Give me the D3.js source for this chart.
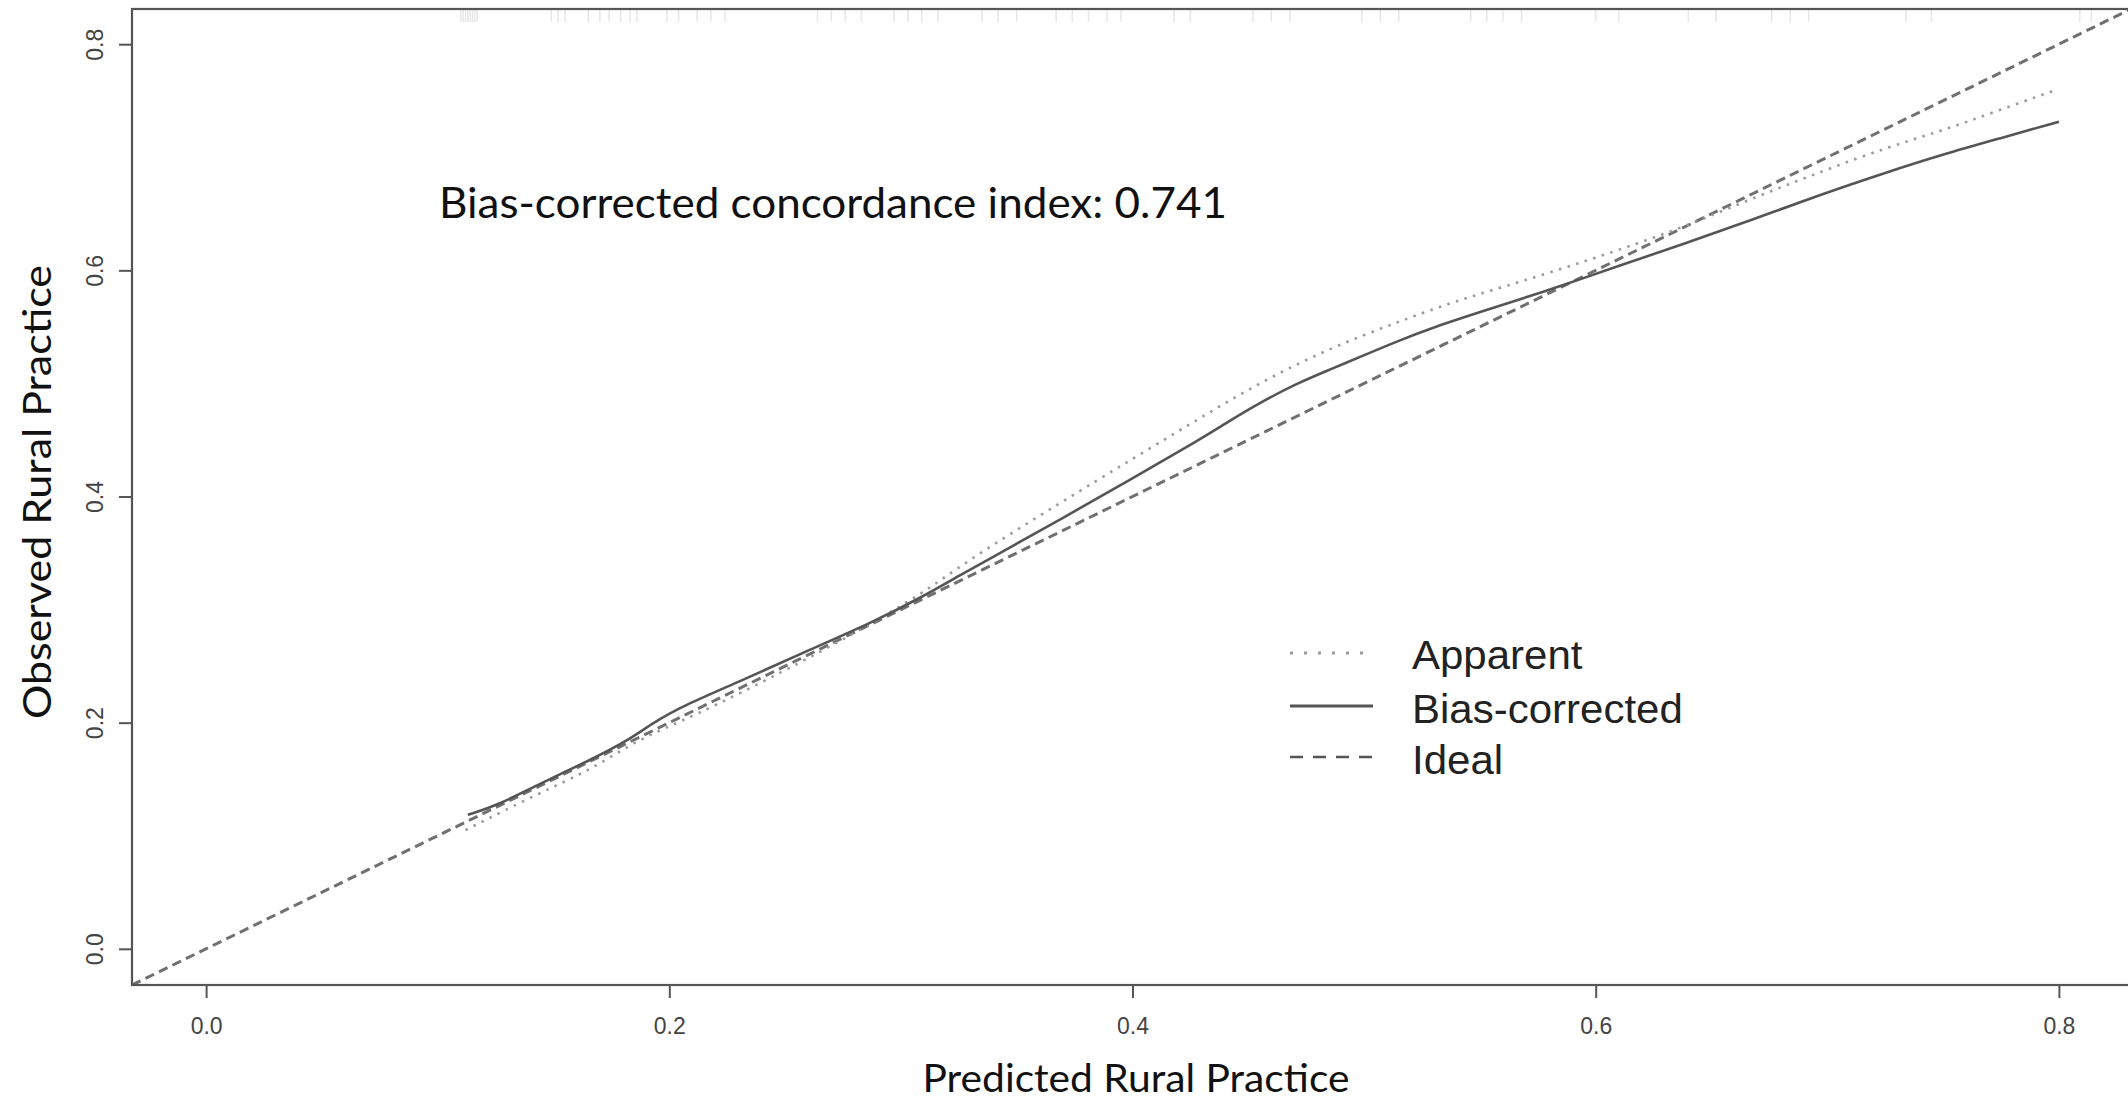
<!DOCTYPE html>
<html>
<head>
<meta charset="utf-8">
<script src="https://cdn.jsdelivr.net/npm/d3@7"></script>
<style>
  html, body { margin: 0; padding: 0; background: #fff; }
  svg { display: block; }
</style>
</head>
<body>
<svg id="chart" width="2128" height="1099"></svg>
<script>
// ---- data ----
const xTicks = [0.0, 0.2, 0.4, 0.6, 0.8];
const yTicks = [0.0, 0.2, 0.4, 0.6, 0.8];

const apparentX = [0.112, 0.144, 0.166, 0.187, 0.21, 0.25, 0.28, 0.31, 0.327, 0.37, 0.399, 0.428, 0.456, 0.485, 0.514, 0.537, 0.553, 0.582, 0.61, 0.639, 0.668, 0.697, 0.726, 0.749, 0.772, 0.798];
const apparentY = [0.105, 0.138, 0.158, 0.186, 0.205, 0.246, 0.279, 0.315, 0.341, 0.396, 0.432, 0.468, 0.502, 0.531, 0.554, 0.571, 0.581, 0.599, 0.618, 0.639, 0.664, 0.687, 0.709, 0.723, 0.740, 0.759];

const biasX = [0.113, 0.126, 0.144, 0.166, 0.182, 0.193, 0.206, 0.231, 0.259, 0.288, 0.31, 0.326, 0.341, 0.37, 0.399, 0.428, 0.442, 0.456, 0.471, 0.485, 0.5, 0.514, 0.529, 0.553, 0.582, 0.61, 0.639, 0.668, 0.697, 0.726, 0.749, 0.775, 0.8];
const biasY = [0.1185, 0.127, 0.146, 0.167, 0.184, 0.200, 0.215, 0.237, 0.263, 0.289, 0.312, 0.331, 0.348, 0.381, 0.415, 0.449, 0.467, 0.484, 0.500, 0.512, 0.525, 0.537, 0.549, 0.565, 0.584, 0.604, 0.624, 0.645, 0.667, 0.687, 0.702, 0.717, 0.7315];

const idealX = [-0.032, 0.832];
const idealY = [-0.032, 0.832];

const rugX = [0.110, 0.111, 0.112, 0.113, 0.114, 0.115, 0.116, 0.117,
  0.149, 0.152, 0.155, 0.165, 0.170, 0.174, 0.179, 0.183, 0.186,
  0.199, 0.204, 0.212, 0.218, 0.224, 0.264, 0.270, 0.276, 0.283,
  0.297, 0.303, 0.309, 0.316, 0.335, 0.342, 0.350, 0.367, 0.374, 0.381, 0.389, 0.395,
  0.418, 0.425, 0.452, 0.460, 0.468, 0.499, 0.507, 0.515,
  0.546, 0.553, 0.560, 0.568, 0.600, 0.610, 0.640, 0.652,
  0.676, 0.684, 0.692, 0.734, 0.745, 0.809, 0.814];

const legendLabels = ["Apparent", "Bias-corrected", "Ideal"];
const annotation = "Bias-corrected concordance index: 0.741";
const xTitle = "Predicted Rural Practice";
const yTitle = "Observed Rural Practice";

// ---- drawing ----
const svg = d3.select("#chart");
svg.append("rect").attr("width", 2128).attr("height", 1099).attr("fill", "#fff");

const x = d3.scaleLinear().domain([-0.032, 0.832]).range([132, 2133]);
const y = d3.scaleLinear().domain([-0.032, 0.832]).range([985, 8]);

const zip = (xs, ys) => xs.map((v, i) => [v, ys[i]]);
const straight = d3.line().x(d => x(d[0])).y(d => y(d[1]));
const smooth = d3.line().x(d => x(d[0])).y(d => y(d[1])).curve(d3.curveBasis);

svg.append("clipPath").attr("id", "plotclip")
  .append("rect").attr("x", 132).attr("y", 8).attr("width", 2001).attr("height", 977);

const plot = svg.append("g").attr("clip-path", "url(#plotclip)");

// rug at top
plot.append("g").selectAll("line").data(rugX).join("line")
  .attr("x1", d => x(d)).attr("x2", d => x(d))
  .attr("y1", y(0.832)).attr("y2", y(0.832) + 14)
  .attr("stroke", "#bbb").attr("stroke-width", 1.5).attr("stroke-opacity", 0.35);

// ideal
plot.append("path").datum(zip(idealX, idealY)).attr("d", straight)
  .attr("fill", "none").attr("stroke", "#707070").attr("stroke-width", 3)
  .attr("stroke-dasharray", "9.5,5.5");

// apparent
plot.append("path").datum(zip(apparentX, apparentY)).attr("d", smooth)
  .attr("fill", "none").attr("stroke", "#9a9a9a").attr("stroke-width", 2.6)
  .attr("stroke-dasharray", "2.5,6.5");

// bias-corrected
plot.append("path").datum(zip(biasX, biasY)).attr("d", smooth)
  .attr("fill", "none").attr("stroke", "#555").attr("stroke-width", 2.6);

// frame
svg.append("rect").attr("x", 132).attr("y", 9).attr("width", 2001).attr("height", 976)
  .attr("fill", "none").attr("stroke", "#555").attr("stroke-width", 2.2);

// x axis
const xAxis = d3.axisBottom(x).tickValues(xTicks).tickFormat(d3.format(".1f"))
  .tickSize(13).tickSizeOuter(0).tickPadding(20);
const gx = svg.append("g").attr("transform", "translate(0,985)").call(xAxis);
gx.select(".domain").remove();
gx.selectAll(".tick line").attr("stroke", "#555").attr("stroke-width", 2);
gx.selectAll(".tick text").attr("fill", "#444")
  .style("font-family", "'Liberation Sans', Arial, sans-serif").style("font-size", "23px");

// y axis
const yAxis = d3.axisLeft(y).tickValues(yTicks).tickFormat(d3.format(".1f"))
  .tickSize(13).tickSizeOuter(0);
const gy = svg.append("g").attr("transform", "translate(132,0)").call(yAxis);
gy.select(".domain").remove();
gy.selectAll(".tick line").attr("stroke", "#555").attr("stroke-width", 2);
gy.selectAll(".tick text").remove();
gy.selectAll(".tick").append("text")
  .attr("transform", "translate(-29,0) rotate(-90)")
  .attr("text-anchor", "middle")
  .attr("fill", "#444")
  .style("font-family", "'Liberation Sans', Arial, sans-serif").style("font-size", "23px")
  .text(d => d3.format(".1f")(d));

// annotation
svg.append("text").attr("x", 439).attr("y", 218)
  .attr("textLength", 788).attr("lengthAdjust", "spacingAndGlyphs")
  .style("font-family", "Lato, 'Open Sans', sans-serif").style("font-size", "42px")
  .attr("fill", "#111").text(annotation);

// axis titles
svg.append("text").attr("x", 1136).attr("y", 1092).attr("text-anchor", "middle")
  .attr("textLength", 427).attr("lengthAdjust", "spacingAndGlyphs")
  .style("font-family", "Lato, 'Open Sans', sans-serif").style("font-size", "38px")
  .attr("fill", "#111").text(xTitle);

svg.append("text").attr("transform", "translate(51,492) rotate(-90)").attr("text-anchor", "middle")
  .attr("textLength", 454).attr("lengthAdjust", "spacingAndGlyphs")
  .style("font-family", "Lato, 'Open Sans', sans-serif").style("font-size", "38px")
  .attr("fill", "#111").text(yTitle);

// legend
const legendStyles = [
  { dash: "3,11", color: "#9a9a9a", width: 3 },
  { dash: null, color: "#555", width: 3 },
  { dash: "13,10", color: "#555", width: 2.6 }
];
const legendLineY = [653, 706, 757];
const legendTextY = [669, 723, 774];
const lg = svg.append("g");
legendLabels.forEach((lab, i) => {
  const s = legendStyles[i];
  const l = lg.append("line").attr("x1", 1290).attr("x2", 1373)
    .attr("y1", legendLineY[i]).attr("y2", legendLineY[i])
    .attr("stroke", s.color).attr("stroke-width", s.width);
  if (s.dash) l.attr("stroke-dasharray", s.dash);
  const t = lg.append("text").attr("x", 1412).attr("y", legendTextY[i])
    .style("font-family", "'Liberation Sans', Arial, sans-serif").style("font-size", "40px")
    .attr("fill", "#222").text(lab);
  const len = t.node().getComputedTextLength();
  t.attr("textLength", len * 1.05).attr("lengthAdjust", "spacingAndGlyphs");
});
</script>
</body>
</html>
